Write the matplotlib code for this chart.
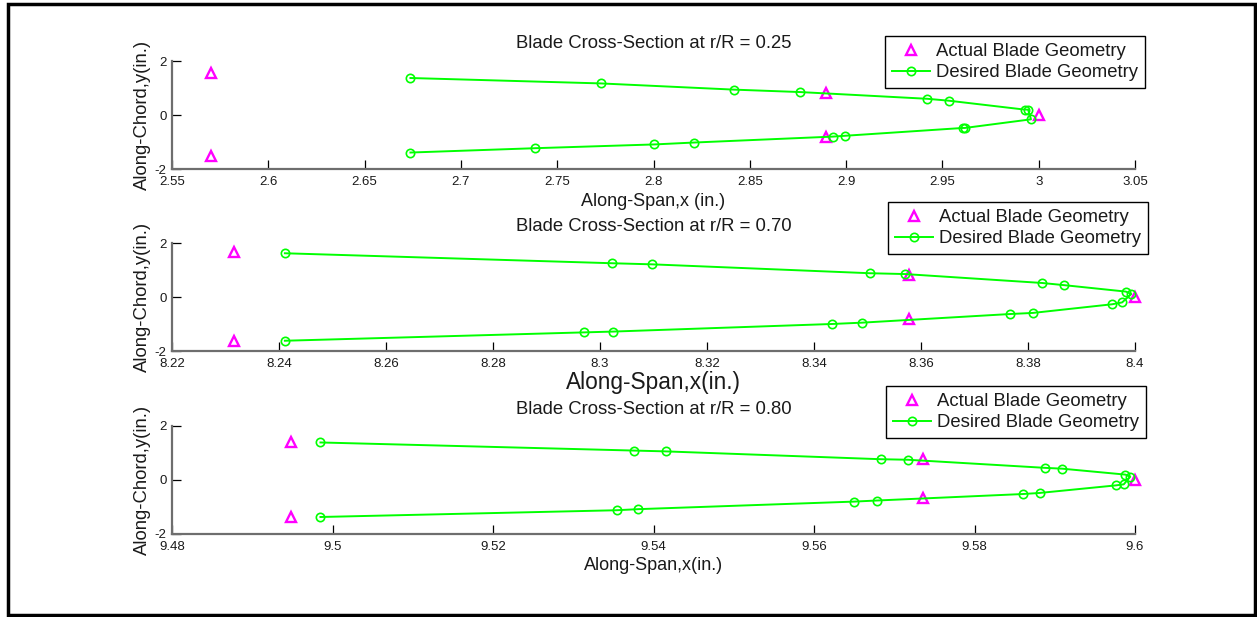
import matplotlib
matplotlib.use("Agg")
import matplotlib.pyplot as plt
from matplotlib.patches import Rectangle
from matplotlib.lines import Line2D

plt.rcParams['font.family'] = ['Liberation Sans', 'DejaVu Sans']

# ---------------- data ----------------
titles = ["Blade Cross-Section at r/R = 0.25",
          "Blade Cross-Section at r/R = 0.70",
          "Blade Cross-Section at r/R = 0.80"]
xlabels = ["Along-Span,x (in.)", "Along-Span,x(in.)", "Along-Span,x(in.)"]
ylabel = "Along-Chord,y(in.)"
legend_labels = ["Actual Blade Geometry", "Desired Blade Geometry"]

# r/R = 0.25
actual_x_025 = [2.5705, 2.5705, 2.8898, 2.8898, 3.0]
actual_y_025 = [1.57, -1.53, 0.83, -0.80, 0.0]
desired_x_025 = [2.6738, 2.7725, 2.8417, 2.8760, 2.9422, 2.9533, 2.9927, 2.9945,
                 2.9960, 2.9616, 2.9606, 2.8993, 2.8931, 2.8209, 2.8005, 2.7384, 2.6738]
desired_y_025 = [1.37, 1.17, 0.94, 0.85, 0.60, 0.53, 0.20, 0.20,
                 -0.16, -0.48, -0.48, -0.77, -0.80, -1.02, -1.09, -1.23, -1.39]

# r/R = 0.70
actual_x_070 = [8.2315, 8.2315, 8.3578, 8.3578, 8.4]
actual_y_070 = [1.66, -1.64, 0.81, -0.81, 0.0]
desired_x_070 = [8.2411, 8.3023, 8.3097, 8.3505, 8.3570, 8.3826, 8.3867, 8.3983, 8.3993,
                 8.3976, 8.3957, 8.3809, 8.3767, 8.3490, 8.3433, 8.3025, 8.2971, 8.2411]
desired_y_070 = [1.62, 1.25, 1.21, 0.88, 0.85, 0.52, 0.44, 0.20, 0.11,
                 -0.20, -0.27, -0.59, -0.63, -0.95, -1.00, -1.28, -1.31, -1.62]

# r/R = 0.80
actual_x_080 = [9.4948, 9.4948, 9.5736, 9.5736, 9.6]
actual_y_080 = [1.42, -1.37, 0.77, -0.66, 0.0]
desired_x_080 = [9.4985, 9.5376, 9.5415, 9.5683, 9.5717, 9.5888, 9.5909, 9.5988, 9.5994,
                 9.5986, 9.5976, 9.5881, 9.5860, 9.5678, 9.5650, 9.5381, 9.5354, 9.4985]
desired_y_080 = [1.39, 1.09, 1.06, 0.77, 0.75, 0.45, 0.42, 0.20, 0.12,
                 -0.16, -0.20, -0.48, -0.52, -0.76, -0.80, -1.08, -1.12, -1.37]

xticks_025 = [2.55, 2.6, 2.65, 2.7, 2.75, 2.8, 2.85, 2.9, 2.95, 3.0, 3.05]
xticklabels_025 = ["2.55", "2.6", "2.65", "2.7", "2.75", "2.8", "2.85", "2.9", "2.95", "3", "3.05"]
xticks_070 = [8.22, 8.24, 8.26, 8.28, 8.30, 8.32, 8.34, 8.36, 8.38, 8.40]
xticklabels_070 = ["8.22", "8.24", "8.26", "8.28", "8.3", "8.32", "8.34", "8.36", "8.38", "8.4"]
xticks_080 = [9.48, 9.50, 9.52, 9.54, 9.56, 9.58, 9.60]
xticklabels_080 = ["9.48", "9.5", "9.52", "9.54", "9.56", "9.58", "9.6"]
yticks = [-2, 0, 2]
yticklabels = ["-2", "0", "2"]

# ---------------- layout ----------------
W, H = 1257, 617
fig = plt.figure(figsize=(W / 100, H / 100), dpi=100)
fig.patch.set_facecolor('white')


def fx(px):
    return px / W


def fy(py):
    return 1 - py / H


ax_left, ax_right = 172, 1135
panels = [
    dict(top=61, bot=169, title_y=43, xlabel_y=202, xlabel_fs=13, leg_top=36, leg_right=1145,
         ax=actual_x_025, ay=actual_y_025, dx=desired_x_025, dy=desired_y_025,
         xt=xticks_025, xtl=xticklabels_025),
    dict(top=243, bot=351, title_y=227, xlabel_y=383, xlabel_fs=16.3, leg_top=202, leg_right=1148,
         ax=actual_x_070, ay=actual_y_070, dx=desired_x_070, dy=desired_y_070,
         xt=xticks_070, xtl=xticklabels_070),
    dict(top=426, bot=534, title_y=409, xlabel_y=565, xlabel_fs=13, leg_top=386, leg_right=1146,
         ax=actual_x_080, ay=actual_y_080, dx=desired_x_080, dy=desired_y_080,
         xt=xticks_080, xtl=xticklabels_080),
]

GREEN = '#00ff00'
MAGENTA = '#ff00ff'
SPINE = '#6e6e6e'
TXT = '#1a1a1a'

for i, p in enumerate(panels):
    ax = fig.add_axes([fx(ax_left), fy(p['bot']), fx(ax_right - ax_left), (p['bot'] - p['top']) / H])
    ax.plot(p['ax'], p['ay'], linestyle='none', marker='^', markersize=7,
            markerfacecolor='none', markeredgecolor=MAGENTA, markeredgewidth=1.7,
            clip_on=False, zorder=3)
    ax.plot(p['dx'], p['dy'], color=GREEN, linewidth=1.4, marker='o', markersize=6,
            markerfacecolor='none', markeredgecolor=GREEN, markeredgewidth=1.2,
            clip_on=False, zorder=4)
    ax.set_xlim(p['xt'][0], p['xt'][-1])
    ax.set_ylim(-2, 2)
    ax.set_xticks(p['xt'])
    ax.set_xticklabels(p['xtl'])
    ax.set_yticks(yticks)
    ax.set_yticklabels(yticklabels)
    for s in ['top', 'right']:
        ax.spines[s].set_visible(False)
    for s in ['left', 'bottom']:
        ax.spines[s].set_color(SPINE)
        ax.spines[s].set_linewidth(1.6)
    ax.tick_params(direction='in', length=6.5, width=0.9, color='black',
                   labelsize=9.5, labelcolor=TXT)
    ax.tick_params(axis='x', pad=5)
    ax.tick_params(axis='y', pad=4)
    ax.set_facecolor('none')

    fig.text(fx((ax_left + ax_right) / 2), fy(p['title_y']), titles[i],
             ha='center', va='center', fontsize=13.3, color=TXT)
    fig.text(fx((ax_left + ax_right) / 2), fy(p['xlabel_y']), xlabels[i],
             ha='center', va='center', fontsize=p['xlabel_fs'], color=TXT)
    fig.text(fx(142), fy((p['top'] + p['bot']) / 2), ylabel, rotation=90,
             ha='center', va='center', fontsize=13.3, color=TXT)

    h1 = Line2D([], [], linestyle='none', marker='^', markersize=7,
                markerfacecolor='none', markeredgecolor=MAGENTA, markeredgewidth=1.7)
    h2 = Line2D([], [], color=GREEN, linewidth=1.4, marker='o', markersize=6,
                markerfacecolor='none', markeredgecolor=GREEN, markeredgewidth=1.2)
    leg = ax.legend([h1, h2], legend_labels, loc='upper right',
                    bbox_to_anchor=(fx(p['leg_right']), fy(p['leg_top'])),
                    bbox_transform=fig.transFigure, borderaxespad=0,
                    fontsize=13.3, frameon=True, fancybox=False, shadow=False,
                    framealpha=1, edgecolor='black', borderpad=0.4,
                    labelspacing=0.2, handlelength=2.05, handletextpad=0.3,
                    numpoints=1)
    leg.get_frame().set_linewidth(1.0)
    for t in leg.get_texts():
        t.set_color(TXT)

# outer border
fig.patches.append(Rectangle((fx(8), fy(615)), fx(1255 - 8), (615 - 4) / H,
                             transform=fig.transFigure, fill=False,
                             edgecolor='black', linewidth=2.5))

fig.savefig('out.png', dpi=100, facecolor='white')
